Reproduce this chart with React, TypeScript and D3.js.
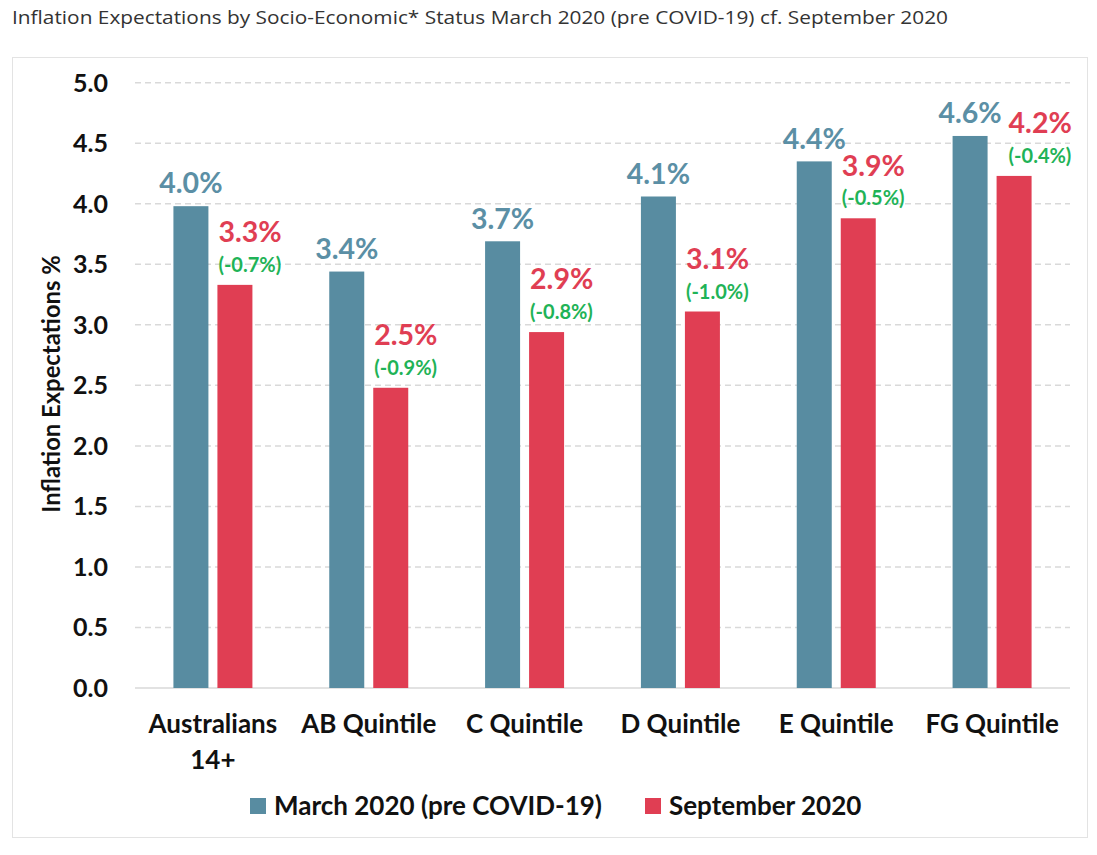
import React from "react";
import * as d3 from "d3";

const categories: string[][] = [
  ["Australians", "14+"],
  ["AB Quintile"],
  ["C Quintile"],
  ["D Quintile"],
  ["E Quintile"],
  ["FG Quintile"],
];
const march2020 = [3.98, 3.44, 3.69, 4.06, 4.35, 4.56];
const sept2020 = [3.33, 2.48, 2.94, 3.11, 3.88, 4.23];
const marchLabels = ["4.0%", "3.4%", "3.7%", "4.1%", "4.4%", "4.6%"];
const septLabels = ["3.3%", "2.5%", "2.9%", "3.1%", "3.9%", "4.2%"];
const changeLabels = ["(-0.7%)", "(-0.9%)", "(-0.8%)", "(-1.0%)", "(-0.5%)", "(-0.4%)"];
const yTicks = [0, 0.5, 1, 1.5, 2, 2.5, 3, 3.5, 4, 4.5, 5];
const seriesNames = ["March 2020 (pre COVID-19)", "September 2020"];

const W = 1097;
const H = 855;
const BLUE = "#588ca1";
const BLUE_TXT = "#5b8fa5";
const RED = "#e03e53";
const GREEN = "#1fb357";
const FONT = "Lato, 'Open Sans', sans-serif";

export default function App() {
  const plotL = 135;
  const plotR = 1070;
  const yTop = 82.7;
  const yBot = 688;
  const x = d3
    .scaleBand<number>()
    .domain(d3.range(categories.length))
    .range([plotL, plotR])
    .paddingInner(0)
    .paddingOuter(0);
  const y = d3.scaleLinear().domain([0, 5]).range([yBot, yTop]);
  const barW = 35;
  const gap = 9;
  const labelHalfW = 31.5;

  return (
    <svg
      width={W}
      height={H}
      style={{ position: "absolute", left: 0, top: 0, background: "#fff" }}
      fontFamily={FONT}
    >
      <text
        x={12}
        y={24}
        fontSize={19}
        fill="#333"
        fontFamily="'Open Sans', sans-serif"
        textLength={936}
        lengthAdjust="spacingAndGlyphs"
      >
        Inflation Expectations by Socio-Economic* Status March 2020 (pre COVID-19) cf. September 2020
      </text>
      <rect x={12.5} y={57.5} width={1075} height={780} fill="#fff" stroke="#e3e3e3" strokeWidth={1} />

      {yTicks.map((t) => (
        <g key={t}>
          {t > 0 && (
            <line
              x1={plotL}
              x2={plotR}
              y1={y(t)}
              y2={y(t)}
              stroke="#d9d9d9"
              strokeWidth={1.5}
              strokeDasharray="6,4"
            />
          )}
          <text
            x={108}
            y={y(t)}
            dy="0.36em"
            textAnchor="end"
            fontSize={25}
            fontWeight="bold"
            fill="#111"
          >
            {t.toFixed(1)}
          </text>
        </g>
      ))}
      <line x1={plotL} x2={plotR} y1={yBot} y2={yBot} stroke="#d9d9d9" strokeWidth={1.5} />

      <text
        transform={`translate(51,384) rotate(-90)`}
        textAnchor="middle"
        dy="0.36em"
        fontSize={23.8}
        fontWeight="bold"
        fill="#111"
      >
        Inflation Expectations %
      </text>

      {categories.map((cat, i) => {
        const c = (x(i) as number) + x.bandwidth() / 2;
        const bx = c - gap / 2 - barW;
        const rx = c + gap / 2;
        const by = y(march2020[i]);
        const ry = y(sept2020[i]);
        const blueLabelY = by - 23;
        const redLabelY = ry - 53;
        const blueRight = bx + barW / 2 + labelHalfW;
        let redStart = rx + 1;
        if (Math.abs(blueLabelY - redLabelY) < 22 && redStart < blueRight + 7) {
          redStart = blueRight + 7;
        }
        return (
          <g key={i}>
            <rect x={bx} y={by} width={barW} height={yBot - by} fill={BLUE} />
            <rect x={rx} y={ry} width={barW} height={yBot - ry} fill={RED} />
            <text
              x={bx + barW / 2}
              y={blueLabelY}
              dy="0.36em"
              textAnchor="middle"
              fontSize={28.5}
              fontWeight="bold"
              fill={BLUE_TXT}
            >
              {marchLabels[i]}
            </text>
            <text
              x={redStart}
              y={redLabelY}
              dy="0.36em"
              textAnchor="start"
              fontSize={28.5}
              fontWeight="bold"
              fill={RED}
            >
              {septLabels[i]}
            </text>
            <text
              x={redStart}
              y={ry - 20}
              dy="0.36em"
              textAnchor="start"
              fontSize={20}
              fontWeight="bold"
              fill={GREEN}
            >
              {changeLabels[i]}
            </text>
            {cat.map((line, j) => (
              <text
                key={j}
                x={c}
                y={724 + j * 36}
                dy="0.36em"
                textAnchor="middle"
                fontSize={26}
                fontWeight="bold"
                fill="#111"
              >
                {line}
              </text>
            ))}
          </g>
        );
      })}

      {seriesNames.map((name, k) => {
        const lx = k === 0 ? 250 : 645;
        return (
          <g key={name}>
            <rect x={lx} y={798} width={16} height={16} fill={k === 0 ? BLUE : RED} />
            <text x={lx + 24} y={806} dy="0.36em" fontSize={26} fontWeight="bold" fill="#111">
              {name}
            </text>
          </g>
        );
      })}
    </svg>
  );
}
